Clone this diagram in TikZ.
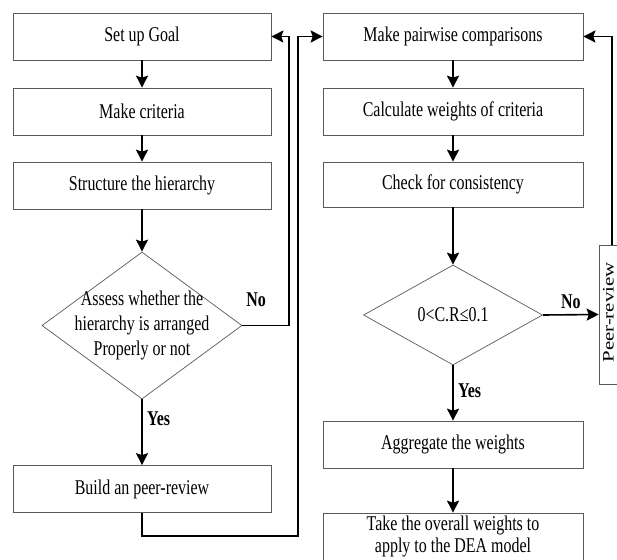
\documentclass[tikz,border=0pt]{standalone}
\usepackage{fontspec}
\setmainfont{Liberation Serif}[FakeStretch=0.76]
\newfontfamily\peerfont{Liberation Serif}[FakeStretch=1.3]
\usetikzlibrary{shapes.geometric,arrows.meta}
\begin{document}
\begin{tikzpicture}[x=1pt,y=-1pt,
	box/.style={draw=black!65,line width=0.7pt,rectangle,inner sep=0pt,minimum width=258pt,minimum height=47pt,align=center,font=\fontsize{21}{22}\selectfont},
	choice/.style={draw=black!65,line width=0.7pt,diamond,inner sep=0pt,align=center,font=\fontsize{21}{25}\selectfont},
	flow/.style={line width=1.6pt,-{Stealth[length=12pt,width=12pt,inset=2pt]}},
	tag/.style={font=\bfseries\fontsize{21}{25}\selectfont}]
	\useasboundingbox (0,0) rectangle (617,559);
	% left column
	\node[box] (goal) at (142,36.5) {Set up Goal};
	\node[box] (crit) at (142,111.5) {Make criteria};
	\node[box] (hier) at (142,185.5) {Structure the hierarchy};
	\node[choice,inner ysep=-13pt,minimum width=200pt,minimum height=147pt,aspect=1.36] (assess) at (142,325.5) {Assess whether the\\hierarchy is arranged\\Properly or not};
	\node[box] (build) at (142,489) {Build an peer-review};
	% right column
	\node[box,minimum width=260pt] (pair) at (453,36.5) {Make pairwise comparisons};
	\node[box,minimum width=260pt] (calc) at (453,111.5) {Calculate weights of criteria};
	\node[box,minimum width=260pt,minimum height=45pt] (check) at (453,184.5) {Check for consistency};
	\node[choice,minimum width=179pt,minimum height=100pt,aspect=1.79] (cr) at (453,315) {0<C.R≤0.1};
	\node[box,minimum width=260pt] (agg) at (453,444.5) {Aggregate the weights};
	\node[box,minimum width=260pt] (final) at (453,536.5) {Take the overall weights to\\apply to the DEA model};
	\node[box,minimum width=26pt,minimum height=139pt] (peer) at (612,314.5) {};
	\node[rotate=90,inner sep=0pt,font=\peerfont\fontsize{16}{16}\selectfont] (peertext) at (608.5,312.5) {Peer-review};
	% turning points
	\coordinate (backA) at (289,200);
	\coordinate (backB) at (298,536);
	% connectors
	\draw[flow] (goal) -- (crit);
	\draw[flow] (crit) -- (hier);
	\draw[flow] (hier) -- (assess.north);
	\draw[flow] (assess.south) -- node[tag,right=1pt,pos=0.3] {Yes} (build);
	\draw[flow] (assess.east) -| (backA) |- (goal.east);
	\draw[flow] (build.south) |- (backB) |- (pair.west);
	\draw[flow] (pair) -- (calc);
	\draw[flow] (calc) -- (check);
	\draw[flow] (check) -- (cr.north);
	\draw[flow] (cr.south) -- node[tag,right=1pt,pos=0.45] {Yes} (agg);
	\draw[flow] (agg) -- (final);
	\draw[flow] (cr.east) -- node[tag,above=2pt] {No} (peer.west);
	\draw[flow] (peer.north) |- (pair.east);
	\node[tag] (nolabel) at (256,300) {No};
\end{tikzpicture}
\end{document}
